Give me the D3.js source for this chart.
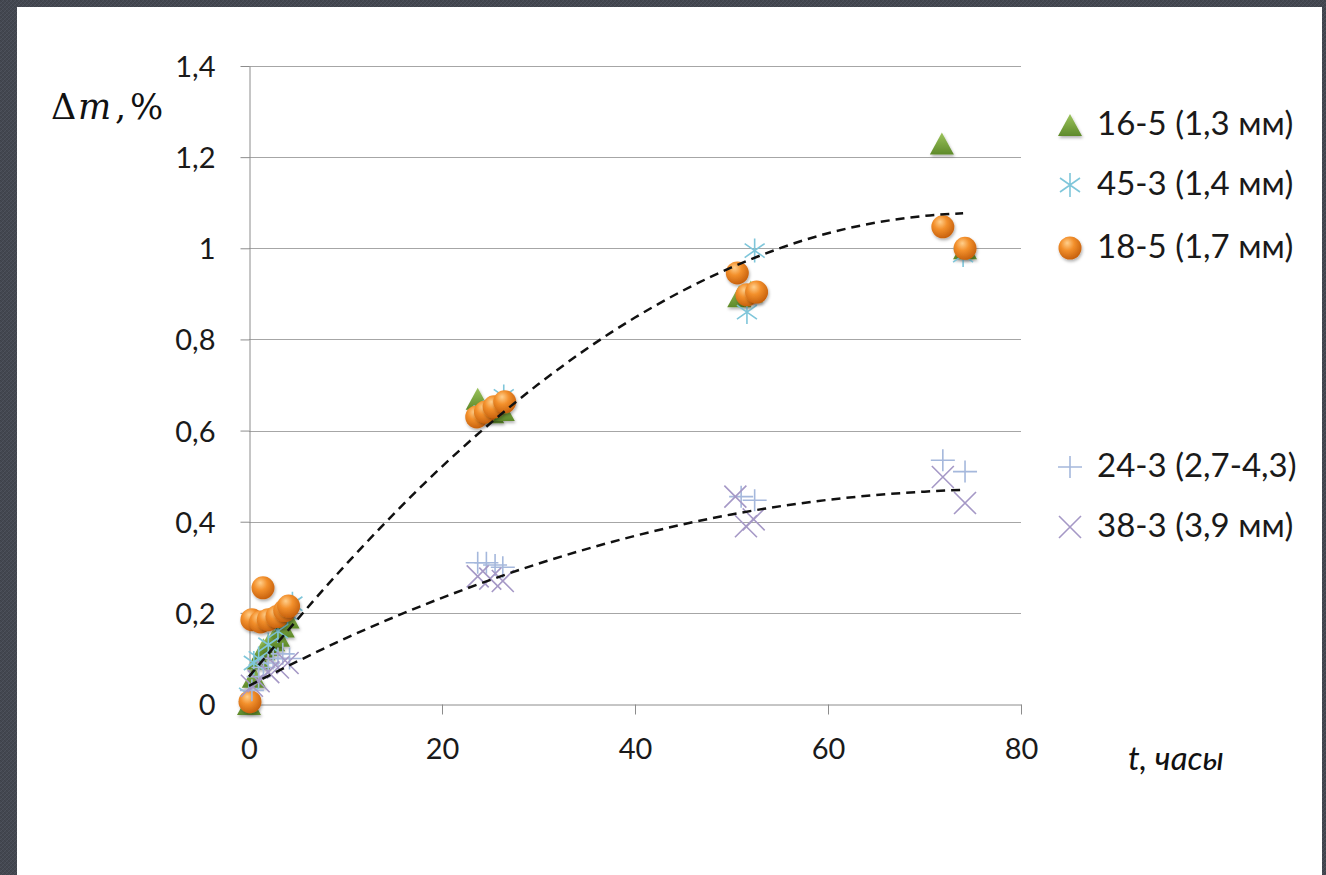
<!DOCTYPE html>
<html>
<head>
<meta charset="utf-8">
<script src="https://cdn.jsdelivr.net/npm/d3@7"></script>
<style>
  html, body { margin: 0; padding: 0; background: #42464e; }
  svg { display: block; }
</style>
</head>
<body>
<svg id="chart" width="1326" height="875"></svg>
<script>
// ---- data: mass gain Δm (%) vs time t (hours) ----
const t16 = [0, 0.5, 1, 1.5, 2, 2.5, 3, 3.5, 4, 23.7, 25.2, 26.3, 50.8, 52, 71.8, 74.2];
const v16 = [0, 0.06, 0.1, 0.12, 0.13, 0.14, 0.15, 0.17, 0.19, 0.67, 0.64, 0.645, 0.895, 0.905, 1.23, 1.0];

const t45 = [0, 0.5, 1, 2, 3, 4, 4.5, 24.3, 26.4, 51.6, 52.4, 74];
const v45 = [0.02, 0.09, 0.1, 0.13, 0.16, 0.2, 0.22, 0.64, 0.675, 0.86, 0.995, 0.985];

const t18 = [0.1, 0.3, 1.45, 1.2, 2, 2.9, 3.7, 4.1, 23.6, 24.5, 25.4, 26.5, 50.6, 51.6, 52.6, 71.9, 74.2];
const v18 = [0.005, 0.185, 0.255, 0.18, 0.185, 0.192, 0.205, 0.215, 0.63, 0.641, 0.652, 0.663, 0.946, 0.898, 0.904, 1.047, 1.0];

const t24 = [0.3, 1, 1.5, 2, 2.5, 3, 3.5, 4.2, 23.7, 24.6, 25.5, 26.3, 51, 52.4, 71.9, 74.2];
const v24 = [0.03, 0.06, 0.08, 0.09, 0.1, 0.1, 0.11, 0.1, 0.31, 0.31, 0.305, 0.3, 0.455, 0.447, 0.535, 0.51];

const t38 = [0.3, 1, 2, 3, 4, 23.7, 25, 26.3, 50.4, 51.5, 52.3, 71.9, 74.2];
const v38 = [0.04, 0.05, 0.07, 0.08, 0.09, 0.28, 0.275, 0.27, 0.455, 0.39, 0.405, 0.498, 0.441];

// dashed trend curves sampled along t
const trendT     = [0, 10, 20, 30, 40, 50, 60, 70, 74];
const trendUpper = [0.06, 0.305, 0.521, 0.702, 0.848, 0.958, 1.033, 1.071, 1.077];
const trendLower = [0.04, 0.144, 0.233, 0.308, 0.369, 0.416, 0.448, 0.466, 0.47];

const seriesNames = ["16-5 (1,3 мм)", "45-3 (1,4 мм)", "18-5 (1,7 мм)", "24-3 (2,7-4,3)", "38-3 (3,9 мм)"];
const xTicks = [0, 20, 40, 60, 80];
const yTicks = [0, 0.2, 0.4, 0.6, 0.8, 1, 1.2, 1.4];

// ---- layout ----
const W = 1326, H = 875;
const svg = d3.select("#chart");
const x = d3.scaleLinear().domain([0, 80]).range([249, 1021]);
const y = d3.scaleLinear().domain([0, 1.4]).range([704, 66]);
const fmt = v => String(v).replace(".", ",");
const sans = "Lato, 'Open Sans', sans-serif";

// ---- defs: textures, gradients, shadow ----
const defs = svg.append("defs");
const pat = defs.append("pattern").attr("id", "frameTex")
  .attr("width", 4).attr("height", 4).attr("patternUnits", "userSpaceOnUse");
pat.append("rect").attr("width", 4).attr("height", 4).attr("fill", "#434750");
pat.append("path").attr("d", "M0,4 L4,0").attr("stroke", "#4d515b").attr("stroke-width", 1);
pat.append("path").attr("d", "M0,0 L4,4").attr("stroke", "#3a3d45").attr("stroke-width", 0.6);

const og = defs.append("radialGradient").attr("id", "orangeGrad")
  .attr("cx", "40%").attr("cy", "35%").attr("r", "65%").attr("fx", "38%").attr("fy", "28%");
og.append("stop").attr("offset", "0%").attr("stop-color", "#ffcf8c");
og.append("stop").attr("offset", "45%").attr("stop-color", "#f3902c");
og.append("stop").attr("offset", "100%").attr("stop-color", "#c8620e");

const gg = defs.append("linearGradient").attr("id", "greenGrad")
  .attr("x1", "0").attr("y1", "0").attr("x2", "0").attr("y2", "1");
gg.append("stop").attr("offset", "0%").attr("stop-color", "#9cc45c");
gg.append("stop").attr("offset", "100%").attr("stop-color", "#5e8a2a");

const sh = defs.append("filter").attr("id", "shadow")
  .attr("x", "-40%").attr("y", "-40%").attr("width", "180%").attr("height", "180%");
sh.append("feDropShadow").attr("dx", 1).attr("dy", 2).attr("stdDeviation", 1.5)
  .attr("flood-color", "#000").attr("flood-opacity", 0.3);

// ---- frame and page ----
svg.append("rect").attr("width", W).attr("height", H).attr("fill", "url(#frameTex)");
svg.append("rect").attr("x", 17).attr("y", 7).attr("width", 1305).attr("height", H - 7).attr("fill", "#ffffff");

// ---- gridlines ----
svg.append("g").selectAll("line").data(yTicks.filter(d => d > 0)).join("line")
  .attr("x1", x(0)).attr("x2", x(80))
  .attr("y1", d => Math.round(y(d)) + 0.5).attr("y2", d => Math.round(y(d)) + 0.5)
  .attr("stroke", "#a6a6a6").attr("stroke-width", 1);

// ---- axes ----
const yAxis = svg.append("g").attr("transform", `translate(${x(0) + 0.5},0)`)
  .call(d3.axisLeft(y).tickValues(yTicks).tickFormat(fmt).tickSize(9).tickSizeOuter(0).tickPadding(25));
const xAxis = svg.append("g").attr("transform", `translate(0,${Math.round(y(0)) + 0.5})`)
  .call(d3.axisBottom(x).tickValues(xTicks).tickFormat(fmt).tickSize(10).tickSizeOuter(0).tickPadding(24));
[yAxis, xAxis].forEach(g => {
  g.select(".domain").attr("stroke", "#8c8c8c");
  g.selectAll(".tick line").attr("stroke", "#8c8c8c");
  g.selectAll(".tick text").attr("fill", "#1a1a1a")
    .style("font-family", sans).style("font-size", "29px");
});
yAxis.selectAll(".tick text").attr("dy", "0.36em");

// ---- axis titles ----
const serif = "'DejaVu Serif', 'Liberation Serif', serif";
const yTitle = svg.append("text").attr("y", 119).attr("fill", "#111")
  .style("font-family", serif).style("font-size", "35px");
yTitle.append("tspan").attr("x", 51).text("Δ");
yTitle.append("tspan").attr("x", 78).style("font-style", "italic").text("m");
yTitle.append("tspan").attr("x", 115).text(",");
yTitle.append("tspan").attr("x", 130).text("%");

svg.append("text").attr("x", 1128).attr("y", 770).attr("fill", "#111")
  .style("font-family", sans).style("font-size", "33px").style("font-style", "italic")
  .text("t, часы");

// ---- marker painters ----
const markers = {
  triangle: g => g.append("path").attr("d", "M0,-11 L12,11 L-12,11 Z")
    .attr("fill", "url(#greenGrad)").attr("filter", "url(#shadow)"),
  asterisk: g => g.append("path")
    .attr("d", "M0,-12 L0,12 M-10,-7 L10,7 M-10,7 L10,-7")
    .attr("stroke", "#7fc6da").attr("stroke-width", 1.6).attr("fill", "none"),
  circle: g => g.append("circle").attr("r", 11.5)
    .attr("fill", "url(#orangeGrad)").attr("filter", "url(#shadow)"),
  plus: g => g.append("path").attr("d", "M-12,0 L12,0 M0,-11 L0,11")
    .attr("stroke", "#a5b8dc").attr("stroke-width", 1.6).attr("fill", "none"),
  cross: g => g.append("path").attr("d", "M-11,-11 L11,11 M-11,11 L11,-11")
    .attr("stroke", "#a598c6").attr("stroke-width", 1.6).attr("fill", "none")
};

const series = [
  { t: t16, v: v16, m: "triangle" },
  { t: t45, v: v45, m: "asterisk" },
  { t: t18, v: v18, m: "circle" },
  { t: t24, v: v24, m: "plus" },
  { t: t38, v: v38, m: "cross" }
];

// ---- points ----
series.forEach(s => {
  const pts = s.t.map((t, i) => ({ t, v: s.v[i] }));
  svg.append("g").selectAll("g").data(pts).join("g")
    .attr("transform", d => `translate(${x(d.t)},${y(d.v)})`)
    .each(function () { markers[s.m](d3.select(this)); });
});

// ---- trend curves ----
const line = d3.line().x(d => x(d[0])).y(d => y(d[1])).curve(d3.curveMonotoneX);
[trendUpper, trendLower].forEach(vals => {
  svg.append("path").datum(trendT.map((t, i) => [t, vals[i]]))
    .attr("d", line).attr("fill", "none").attr("stroke", "#111")
    .attr("stroke-width", 2.5).attr("stroke-dasharray", "9,6");
});

// ---- legend ----
const legendRows = [125, 185, 248, 467, 527];
const leg = svg.append("g");
series.forEach((s, i) => {
  const g = leg.append("g").attr("transform", `translate(1070,${legendRows[i]})`);
  markers[s.m](g);
  leg.append("text").attr("x", 1097).attr("y", legendRows[i] + 10)
    .attr("fill", "#1a1a1a").style("font-family", sans).style("font-size", "33px")
    .text(seriesNames[i]);
});
</script>
</body>
</html>
